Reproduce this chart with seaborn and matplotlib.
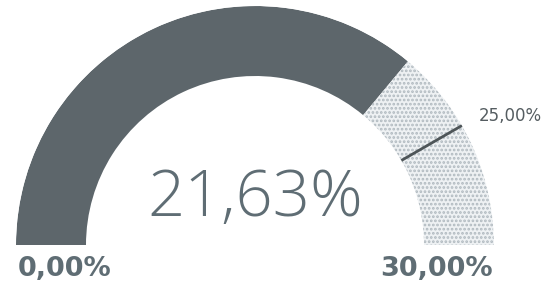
import numpy as np
import matplotlib
matplotlib.use("Agg")
import matplotlib.pyplot as plt
import seaborn as sns

# data
gauge_min = 0.0
gauge_max = 30.0
value = 21.63
target = 25.0
labels_min = "0,00%"
labels_max = "30,00%"
label_value = "21,63%"
label_target = "25,00%"

sns.set_theme(style="white")
plt.rcParams['font.family'] = ['DejaVu Sans']
plt.rcParams['hatch.linewidth'] = 1.3

W, H = 552, 286
fig = plt.figure(figsize=(W / 100, H / 100), dpi=100)
fig.patch.set_facecolor("white")

cx, cy, R = 255, 245, 239
inner, thick = 169, 70
ax = fig.add_axes([(cx - R) / W, (H - cy - R) / H, 2 * R / W, 2 * R / H], projection="polar")
ax.set_theta_zero_location("W")
ax.set_theta_direction(-1)
ax.set_ylim(0, R)
ax.set_axis_off()

def to_theta(v):
    return (v - gauge_min) / (gauge_max - gauge_min) * np.pi

dark = "#5d666b"
t0, t1, t2 = to_theta(gauge_min), to_theta(value), to_theta(gauge_max)
ax.bar(t0, thick, width=t1 - t0, bottom=inner, align="edge", color=dark, linewidth=0)
ax.bar(t1, thick, width=t2 - t1, bottom=inner, align="edge", color="#eef1f3",
       edgecolor="#b0b9bf", hatch="....", linewidth=0)
tt = to_theta(target)
ax.plot([tt, tt], [inner, inner + thick], color="#4e5558", lw=2, solid_capstyle="butt")

txt = "#5f6d74"
fig.text(255 / W, 1 - 200 / H, label_value, ha="center", va="center", fontsize=47,
         color=txt, fontweight=300, family=["Open Sans", "DejaVu Sans"])
fig.text(65 / W, 1 - 269 / H, labels_min, ha="center", va="center", fontsize=19.5,
         color=txt, fontweight="bold", family="DejaVu Sans")
fig.text(437 / W, 1 - 269 / H, labels_max, ha="center", va="center", fontsize=19.5,
         color=txt, fontweight="bold", family="DejaVu Sans")
fig.text(510 / W, 1 - 116 / H, label_target, ha="center", va="center", fontsize=12,
         color="#555d61", family="DejaVu Sans")

fig.savefig("out.png", dpi=100, facecolor="white")
